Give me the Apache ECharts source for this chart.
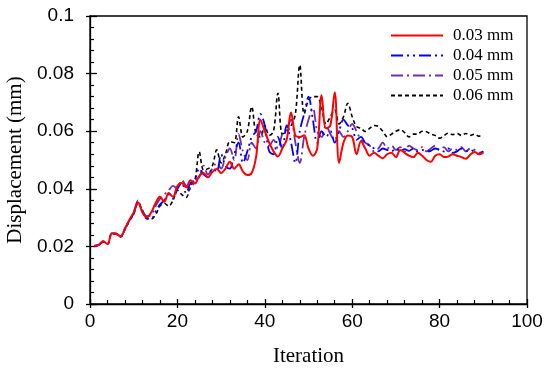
<!DOCTYPE html>
<html>
<head>
<meta charset="utf-8">
<script src="https://cdn.jsdelivr.net/npm/echarts@6/dist/echarts.min.js"></script>
<style>html,body{margin:0;padding:0;background:#fff;}#c{width:550px;height:373px;}</style>
</head>
<body>
<div id="c"></div>
<script>
const seriesNames = ['0.03 mm', '0.04 mm', '0.05 mm', '0.06 mm'];
const xTickLabels = ['0', '20', '40', '60', '80', '100'];
const yTickLabels = ['0', '0.02', '0.04', '0.06', '0.08', '0.1'];

const red003 = [0.0202,0.0205,0.0218,0.0208,0.0245,0.0243,0.0235,0.0262,0.0292,0.0318,
0.0352,0.0318,0.0300,0.0318,0.0350,0.0372,0.0355,0.0385,0.0372,0.0410,
0.0420,0.0405,0.0430,0.0418,0.0445,0.0455,0.0440,0.0458,0.0470,0.0455,
0.0470,0.0494,0.0470,0.0485,0.0460,0.0448,0.0455,0.0510,0.0640,0.0600,
0.0560,0.0530,0.0512,0.0540,0.0570,0.0665,0.0585,0.0580,0.0586,0.0540,
0.0515,0.0540,0.0725,0.0610,0.0620,0.0735,0.0490,0.0560,0.0585,0.0580,
0.0520,0.0565,0.0540,0.0515,0.0525,0.0515,0.0506,0.0520,0.0525,0.0510,
0.0535,0.0525,0.0515,0.0510,0.0525,0.0515,0.0500,0.0494,0.0515,0.0520,
0.0510,0.0512,0.0520,0.0515,0.0510,0.0504,0.0518,0.0528,0.0520,0.0525];

const blue004 = [0.0202,0.0205,0.0216,0.0208,0.0244,0.0244,0.0235,0.0260,0.0290,0.0315,
0.0355,0.0320,0.0298,0.0296,0.0320,0.0345,0.0360,0.0380,0.0365,0.0400,
0.0420,0.0385,0.0420,0.0430,0.0470,0.0450,0.0440,0.0470,0.0460,0.0520,
0.0480,0.0470,0.0520,0.0560,0.0490,0.0530,0.0580,0.0600,0.0660,0.0620,
0.0530,0.0520,0.0580,0.0540,0.0620,0.0560,0.0490,0.0600,0.0660,0.0720,
0.0640,0.0560,0.0600,0.0580,0.0600,0.0560,0.0600,0.0640,0.0620,0.0610,
0.0570,0.0580,0.0560,0.0550,0.0540,0.0530,0.0540,0.0535,0.0530,0.0540,
0.0530,0.0538,0.0532,0.0540,0.0530,0.0535,0.0530,0.0532,0.0540,0.0535,
0.0530,0.0540,0.0525,0.0530,0.0540,0.0530,0.0535,0.0528,0.0520,0.0530];

const purple005 = [0.0202,0.0206,0.0218,0.0208,0.0246,0.0244,0.0234,0.0262,0.0290,0.0318,
0.0360,0.0325,0.0305,0.0310,0.0340,0.0365,0.0380,0.0395,0.0410,0.0400,
0.0430,0.0410,0.0400,0.0430,0.0440,0.0480,0.0450,0.0470,0.0490,0.0470,
0.0510,0.0540,0.0500,0.0590,0.0530,0.0500,0.0560,0.0540,0.0600,0.0560,
0.0550,0.0570,0.0540,0.0590,0.0610,0.0640,0.0560,0.0490,0.0580,0.0640,
0.0680,0.0600,0.0580,0.0620,0.0590,0.0570,0.0600,0.0580,0.0600,0.0625,
0.0600,0.0570,0.0560,0.0550,0.0530,0.0540,0.0560,0.0540,0.0550,0.0535,
0.0545,0.0530,0.0550,0.0540,0.0535,0.0545,0.0530,0.0540,0.0550,0.0535,
0.0545,0.0530,0.0540,0.0535,0.0545,0.0530,0.0540,0.0535,0.0525,0.0530];

const black006 = [0.0200,0.0205,0.0215,0.0208,0.0245,0.0245,0.0233,0.0258,0.0288,0.0312,
0.0350,0.0325,0.0296,0.0295,0.0310,0.0340,0.0350,0.0340,0.0360,0.0395,
0.0380,0.0370,0.0410,0.0430,0.0528,0.0465,0.0470,0.0480,0.0535,0.0490,
0.0520,0.0564,0.0560,0.0650,0.0580,0.0600,0.0685,0.0590,0.0580,0.0620,
0.0585,0.0600,0.0732,0.0590,0.0600,0.0618,0.0660,0.0830,0.0660,0.0708,
0.0720,0.0720,0.0680,0.0625,0.0650,0.0674,0.0625,0.0650,0.0697,0.0650,
0.0616,0.0610,0.0599,0.0610,0.0620,0.0616,0.0600,0.0581,0.0590,0.0600,
0.0605,0.0595,0.0580,0.0590,0.0590,0.0600,0.0598,0.0590,0.0585,0.0576,
0.0585,0.0593,0.0588,0.0592,0.0585,0.0592,0.0585,0.0590,0.0583,0.0584];

function pts(arr) { return arr.map((v, i) => [i + 1, v]); }

const serif = 'Liberation Serif, Times New Roman, serif';
const sans = 'Liberation Sans, Arial, sans-serif';

const chart = echarts.init(document.getElementById('c'), null, {renderer: 'canvas'});

const axisLine = {show: true, lineStyle: {color: '#000', width: 1.3}};

chart.setOption({
  animation: false,
  backgroundColor: '#fff',
  grid: {left: 90, right: 23, top: 16, bottom: 69, containLabel: false, outerBoundsMode: 'none',
    show: true, borderColor: '#000', borderWidth: 1.3, backgroundColor: 'transparent'},
  legend: {
    orient: 'vertical', left: 385, top: 22, itemWidth: 52, itemHeight: 14, itemGap: 3,
    data: seriesNames,
    itemStyle: {opacity: 0},
    textStyle: {fontFamily: serif, fontSize: 17, color: '#000', padding: [0, 0, 0, 5]}
  },
  xAxis: [{
    type: 'value', min: 0, max: 100, interval: 20,
    name: 'Iteration', nameLocation: 'middle', nameGap: 42,
    nameTextStyle: {fontFamily: serif, fontSize: 21, color: '#000'},
    axisLine: axisLine,
    axisTick: {show: true, inside: true, length: 5, lineStyle: {color: '#000', width: 1.3}},
    minorTick: {show: true, splitNumber: 5, length: 4, lineStyle: {color: '#000', width: 1.2}},
    axisLabel: {fontFamily: sans, fontSize: 19, color: '#000', margin: 8,
      formatter: (v) => xTickLabels[Math.round(v / 20)]},
    splitLine: {show: false}
  }, {
    type: 'value', min: 0, max: 100, interval: 20, position: 'bottom', offset: 0,
    axisLine: {show: false},
    axisTick: {show: true, inside: false, length: 4, lineStyle: {color: '#000', width: 1.3}},
    axisLabel: {show: false}, splitLine: {show: false}
  }],
  yAxis: [{
    type: 'value', min: 0, max: 0.1, interval: 0.02,
    name: 'Displacement (mm)', nameLocation: 'middle', nameGap: 62, nameRotate: 90,
    nameTextStyle: {fontFamily: serif, fontSize: 21, color: '#000'},
    axisLine: axisLine,
    axisTick: {show: true, inside: true, length: 7, lineStyle: {color: '#000', width: 1.3}},
    minorTick: {show: true, splitNumber: 5, length: 4, lineStyle: {color: '#000', width: 1.2}},
    axisLabel: {fontFamily: sans, fontSize: 19, color: '#000', margin: 16,
      formatter: (v) => yTickLabels[Math.round(v / 0.02)]},
    splitLine: {show: false}
  }, {
    type: 'value', min: 0, max: 0.1, interval: 0.02, position: 'left', offset: 0,
    axisLine: {show: false},
    axisTick: {show: true, inside: false, length: 4, lineStyle: {color: '#000', width: 1.3}},
    axisLabel: {show: false}, splitLine: {show: false}
  }],
  series: [
    {name: seriesNames[3], type: 'line', data: pts(black006), showSymbol: false, symbol: 'none', smooth: 0.35, z: 2,
      lineStyle: {color: '#000000', width: 1.6, type: [4, 3]}, itemStyle: {color: '#000000'}},
    {name: seriesNames[2], type: 'line', data: pts(purple005), showSymbol: false, symbol: 'none', smooth: 0.35, z: 3,
      lineStyle: {color: '#7030a0', width: 1.8, type: [12, 4, 2, 4]}, itemStyle: {color: '#7030a0'}},
    {name: seriesNames[1], type: 'line', data: pts(blue004), showSymbol: false, symbol: 'none', smooth: 0.35, z: 4,
      lineStyle: {color: '#0000ff', width: 1.8, type: [12, 4, 2, 4, 2, 4]}, itemStyle: {color: '#0000ff'}},
    {name: seriesNames[0], type: 'line', data: pts(red003), showSymbol: false, symbol: 'none', smooth: 0.35, z: 5,
      lineStyle: {color: '#ff0000', width: 2}, itemStyle: {color: '#ff0000'}}
  ]
});
</script>
</body>
</html>
